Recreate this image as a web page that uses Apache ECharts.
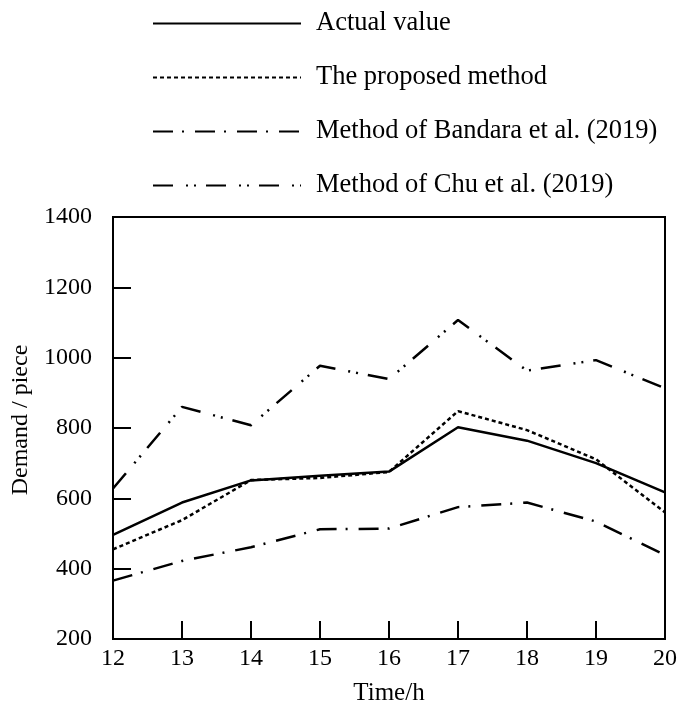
<!DOCTYPE html>
<html>
<head>
<meta charset="utf-8">
<script src="https://cdn.jsdelivr.net/npm/echarts@6/dist/echarts.min.js"></script>
<style>
html,body{margin:0;padding:0;background:#fff;}
#chart{width:686px;height:708px;}
</style>
</head>
<body>
<div id="chart"></div>
<script>
const hours = [12, 13, 14, 15, 16, 17, 18, 19, 20];
const actualValue = [496, 588, 651, 664, 676, 802, 764, 700, 617];
const proposedMethod = [455, 538, 652, 658, 675, 848, 794, 711, 560];
const bandaraMethod = [366, 422, 461, 512, 514, 575, 588, 534, 439];
const chuMethod = [628, 860, 808, 977, 939, 1107, 963, 993, 913];
const seriesNames = ['Actual value', 'The proposed method', 'Method of Bandara et al. (2019)', 'Method of Chu et al. (2019)'];
const yTicks = [200, 400, 600, 800, 1000, 1200, 1400];

const FONT = '"Liberation Serif", "Times New Roman", serif';
const pairs = arr => hours.map((h, i) => [h, arr[i]]);

const styles = [
  { type: 'solid' },
  { type: [4, 3] },
  { type: [20, 9, 2, 11] },
  { type: [20, 13, 2, 6, 2, 10] }
];
const datas = [actualValue, proposedMethod, bandaraMethod, chuMethod];

const chart = echarts.init(document.getElementById('chart'), null, { renderer: 'canvas' });
chart.setOption({
  animation: false,
  backgroundColor: '#fff',
  grid: {
    left: 113, right: 21, top: 217, bottom: 69,
    show: true, borderColor: '#000', borderWidth: 2,
    containLabel: false, outerBoundsMode: 'none'
  },
  legend: {
    orient: 'vertical',
    left: 152,
    top: 10,
    padding: 0,
    itemWidth: 148,
    itemHeight: 20,
    itemGap: 27,
    data: seriesNames,
    itemStyle: { color: 'rgba(0,0,0,0)', borderWidth: 0, opacity: 0 },
    textStyle: { fontFamily: FONT, fontSize: 26.5, color: '#000', lineHeight: 26, padding: [0, 0, 0, 10] }
  },
  xAxis: {
    type: 'value',
    min: 12, max: 20, interval: 1,
    name: 'Time/h',
    nameLocation: 'middle',
    nameGap: 42,
    nameTextStyle: { fontFamily: FONT, fontSize: 25, color: '#000' },
    axisLine: { show: true, lineStyle: { color: '#000', width: 2 } },
    axisTick: { show: true, inside: true, length: 18, lineStyle: { color: '#000', width: 2 } },
    axisLabel: { fontFamily: FONT, fontSize: 24, color: '#000', margin: 8 },
    splitLine: { show: false }
  },
  yAxis: {
    type: 'value',
    min: yTicks[0], max: yTicks[yTicks.length - 1], interval: 200,
    name: 'Demand / piece',
    nameLocation: 'middle',
    nameGap: 79,
    nameTextStyle: { fontFamily: FONT, fontSize: 24, color: '#000', padding: [0, 0, 0, 16] },
    axisLine: { show: true, lineStyle: { color: '#000', width: 2 } },
    axisTick: { show: true, inside: true, length: 18, lineStyle: { color: '#000', width: 2 } },
    axisLabel: { fontFamily: FONT, fontSize: 24, color: '#000', margin: 21, formatter: v => String(v) },
    splitLine: { show: false }
  },
  series: seriesNames.map((name, i) => ({
    name: name,
    type: 'line',
    data: pairs(datas[i]),
    symbol: 'none',
    showSymbol: false,
    smooth: false,
    color: '#000',
    lineStyle: { color: '#000', width: 2.5, type: styles[i].type }
  }))
});
</script>
</body>
</html>
